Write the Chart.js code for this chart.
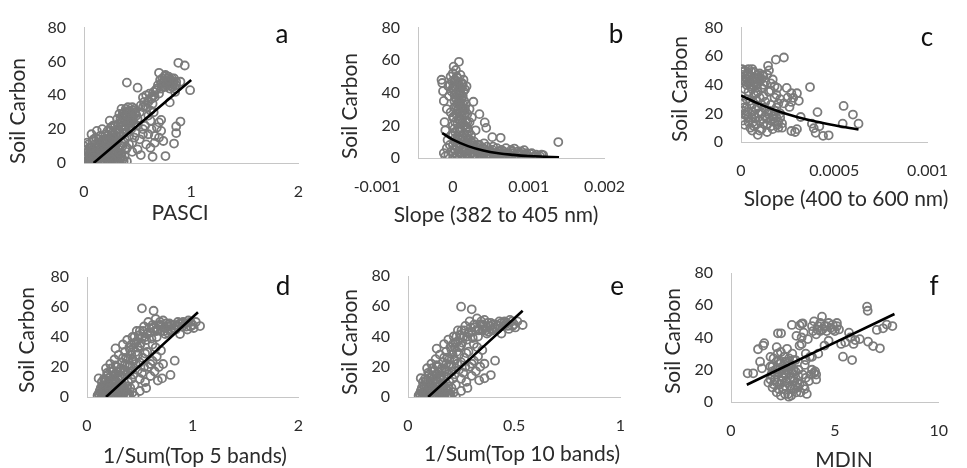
<!DOCTYPE html>
<html>
<head>
<meta charset="utf-8">
<script src="https://cdn.jsdelivr.net/npm/chart.js@4.4.0/dist/chart.umd.min.js"></script>
<style>
  html, body { margin: 0; padding: 0; background: #fff; }
  #wrap { position: relative; width: 967px; height: 468px; overflow: hidden; }
  canvas { position: absolute; }
</style>
</head>
<body>
<div id="wrap">
  <canvas id="chartA" width="322" height="234" style="left:0;top:0"></canvas>
  <canvas id="chartB" width="322" height="234" style="left:322px;top:0"></canvas>
  <canvas id="chartC" width="323" height="234" style="left:644px;top:0"></canvas>
  <canvas id="chartD" width="322" height="234" style="left:0;top:234px"></canvas>
  <canvas id="chartE" width="322" height="234" style="left:322px;top:234px"></canvas>
  <canvas id="chartF" width="323" height="234" style="left:644px;top:234px"></canvas>
</div>
<script>
// ---- datos ([x, soil carbon]) ----
var yTicks = [0, 20, 40, 60, 80];

// a: PASCI
var pasciPts = [[0.02,1],[0.03,3],[0.04,0.5],[0.05,2],[0.05,5],[0.06,1],[0.07,3],[0.08,0.5],[0.08,6],[0.09,2],[0.1,4],[0.1,1],[0.11,7],[0.12,2],[0.12,0.5],[0.13,5],[0.14,3],[0.15,1],[0.15,8],[0.16,4],
  [0.17,2],[0.18,6],[0.19,0.5],[0.2,3],[0.2,9],[0.21,5],[0.22,1],[0.23,7],[0.24,3],[0.25,0.5],[0.26,5],[0.27,2],[0.28,8],[0.3,4],[0.31,1],[0.33,3],[0.35,6],[0.36,2],[0.38,4],[0.4,1],
  [0.03,4],[0.06,6],[0.09,3],[0.11,9],[0.13,6],[0.16,5],[0.18,10],[0.21,7],[0.23,11],[0.26,9],[0.29,6],[0.32,8],[0.34,10],[0.04,7],[0.07,9],[0.1,7],[0.14,11],[0.17,13],[0.19,8],[0.22,13],
  [0.25,12],[0.28,11],[0.31,13],[0.12,3],[0.15,6],[0.2,12],[0.24,9],[0.27,15],[0.3,11],[0.33,9],[0.36,10],[0.39,8],[0.42,11],
  [0.02,4],[0.04,2],[0.06,4],[0.07,1],[0.09,5],[0.11,3],[0.13,1],[0.14,6],[0.16,1],[0.17,5],[0.19,4],[0.21,2],[0.22,5],[0.24,1],[0.25,7],[0.27,5],[0.29,3],[0.3,1],[0.32,5],[0.34,2],
  [0.35,4],[0.37,1],[0.09,8],[0.13,9],[0.19,11],[0.23,4],[0.26,2],[0.29,9],[0.33,6],[0.06,9],[0.04,11],[0.09,14],[0.14,14],[0.19,13],[0.23,14],[0.31,18],[0.35,16],[0.37,22],[0.4,18],[0.43,23],
  [0.44,29],[0.46,25],[0.36,29],[0.39,32],[0.42,31],[0.45,33],
  [0.0,10],[0.03,12],[0.05,9],[0.07,17],[0.08,13],[0.1,11],[0.11,15],[0.12,19],[0.13,12],[0.15,16],[0.16,10],[0.17,20],[0.18,14],[0.2,17],[0.21,12],[0.22,19],[0.24,15],[0.25,21],[0.26,11],[0.27,18],
  [0.28,14],[0.29,22],[0.3,16],[0.24,25],[0.22,16],[0.25,19],[0.27,22],[0.3,20],[0.32,23],[0.34,26],[0.36,24],[0.37,29],[0.39,27],[0.41,30],[0.43,28],[0.45,26],[0.47,32],[0.49,28],[0.33,18],
  [0.35,21],[0.38,20],[0.4,24],[0.42,21],[0.44,24],[0.46,28],[0.48,30],[0.3,13],[0.28,17],[0.26,15],
  [0.31,26],[0.32,20],[0.33,29],[0.34,24],[0.35,32],[0.36,27],[0.37,18],[0.38,30],[0.39,22],[0.4,28],[0.41,33],[0.42,25],[0.43,30],[0.44,20],[0.45,27],[0.46,31],[0.47,23],[0.48,29],[0.5,26],[0.52,30],
  [0.53,34],[0.55,38.7],[0.5,44.5],[0.4,47.5],[0.35,12],[0.38,14],[0.4,9],[0.42,16],[0.45,12],[0.48,18],[0.5,8],[0.52,14],[0.55,20],[0.45,6.6],[0.53,4.7],[0.57,22],[0.6,17],[0.62,25],
  [0.42,20],[0.47,15],[0.5,22],[0.55,17],[0.58,11],[0.63,20],[0.66,16],[0.7,24],[0.74,13],
  [0.56,36],[0.58,40],[0.6,37],[0.61,41],[0.63,38],[0.64,35],[0.65,42],[0.66,39],[0.68,44],[0.7,41],[0.58,33],[0.62,31],[0.6,28],[0.65,30],[0.69,46],[0.67,43],[0.65,40],[0.63,39],[0.6,36],[0.57,34],[0.55,33],
  [0.7,53.3],[0.72,47],[0.73,50],[0.74,45],[0.75,49],[0.76,52],[0.77,46],[0.78,48],[0.79,51],[0.8,44],[0.81,47],[0.82,50],[0.83,45],[0.84,48],[0.85,42],[0.86,46],[0.71,49],[0.73,46],[0.75,51],[0.77,49],
  [0.79,47],[0.81,49],[0.83,47],[0.85,44],[0.72,44],[0.74,48],[0.76,45],[0.78,50],[0.8,49],[0.82,45],[0.84,50],[0.86,48],
  [0.88,59.2],[0.94,57.6],[0.99,43],[0.9,48],[0.8,35.8],[0.72,25.5],[0.7,15],[0.76,4.1],[0.64,3.7],[0.84,11.5],[0.86,21.6],[0.86,17.7],[0.9,24.5],[0.68,21],[0.66,12],[0.72,19],[0.62,9]];
var trendA = [[0.09, 0], [1.0, 49]];
var ticksA = [0, 1, 2];

// b: Slope (382 to 405 nm)
var slope382Pts = [[-0.00015,48],[-0.00014,46],[-0.00013,41],[-0.00012,35],[-0.00011,22],[-0.0001,17],[-0.00007,11],[-0.00008,30],[-0.00006,44],[-0.00005,38],[-0.00012,3],[-0.0001,1],[-0.00008,6],
  [-0.00003,50],[0,52],[0.00002,47],[0.00004,54],[0.00006,49],[0.00008,59],[0.0001,51],[0.00012,46],[0.00014,48],[0.00016,42],[0.00018,44],[0,43],[0.00002,39],[0.00005,36],[0.00008,41],[0.0001,33],
  [0.00013,38],[0.00016,30],[0.00002,31],[0.00004,27],[0.00007,24],[0.0001,28],[0.00012,22],[0.00015,26],[0.00018,19],[0,20],[0.00003,16],[0.00006,13],[0.00009,18],[0.00012,11],[0.00015,15],
  [0.00018,9],[0,8],[0.00003,5],[0.00006,2],[0.00009,7],[0.00012,1],[0.00015,4],[0.0002,12],[0.00022,30],[0.00025,24.9],[0.00027,34.5],[0.00035,26.9],[0.00042,21.8],[0.00044,18.5],[0.00052,12.8],[0.00063,12.4],
  [-0.00004,45],[-0.00002,41],[0.00001,44],[0.00003,37],[0.00005,45],[0.00007,34],[0.00009,40],[0.00011,36],[0.00013,31],[0.00015,35],[0.00017,23],[-0.00003,28],[0.00001,25],[0.00004,32],[0.00007,30],
  [0.0001,23],[0.00013,33],[0.00016,27],[0.00019,22],[0.00021,16],[-0.00002,14],[0.00002,18],[0.00006,21],[0.00009,16],[0.00012,13],[0.00016,20],[0.00019,14],[0.00023,11],[0.00026,9],[0.00029,6],
  [0.00033,8],[0.00037,5],[0.00041,9],[0.00045,7],[0.00049,4],[0.00054,3],[0.00058,6],[0.00062,4],[0.00066,2],[0.00072,3],[0.00076,1],[0.0008,3],[0.00086,2],[0.0009,4],[0.00096,2],[0.001,1],
  [0.00104,3],[0.00108,1],[0.00112,0.5],[0.00117,2],[0.00001,56],[0.00005,50],[0.00011,43],[0.00014,41],[0.00003,12],[0.00008,9],[0.00013,6],[0.00017,12],[0.00021,4],[0.00024,8],[0.00028,2],
  [0.00032,4],[0.00036,1],[0.0004,3],[0.00045,1],[0.0005,4],[0.00055,2],[0.0006,1],[0.00065,3],[0.0007,1],[0.00075,2],[0.0008,0.5],
  [-0.00001,47],[0.00001,42],[0.00003,48],[0.00005,40],[0.00007,46],[0.00009,44],[0.00011,39],[0.00013,45],[0.00002,35],[0.00004,43],[0.00006,33],[0.00008,37],[0.00011,31],[0.00014,29],[0.00017,33],
  [0.0,25],[0.00003,22],[0.00006,29],[0.00009,26],[0.00012,27],[0.00014,20],[0.00017,17],[0.0,14],[0.00003,10],[0.00006,17],[0.00009,12],[0.00011,8],[0.00014,10],[0.00017,6],[0.0002,9],
  [0.00001,3],[0.00004,7],[0.00007,4],[0.00009,1],[0.00012,5],[0.00016,1],[0.00019,3],[0.00023,5],[0.00027,2],[0.0003,7],[0.00034,3],[0.00039,1],[0.00042,5],[0.00047,2],[0.00052,5],[0.00057,3],
  [0.00061,1],[0.00067,4],[0.00071,2],[0.00077,5],[0.00082,2],[0.00086,4],[0.00092,1],[0.00097,3],[-0.00006,2],[-0.00004,8],[-0.00002,4],[0.0002,18],[0.00022,22],[0.00019,27],
  [0.00022,7],[0.00025,3],[0.00028,10],[0.0003,5],[0.00032,1],[0.00035,8],[0.00038,3],[0.0004,6],[0.00043,1],[0.00046,4],[0.0005,2],[0.00053,7],[0.00056,0.5],[0.0006,3],[0.00064,5],[0.00068,1],
  [0.0007,6],[0.00074,2],[0.00078,4],[0.00081,5.8],[0.00084,1],[0.00088,3],[0.00094,4.8],[0.00098,1],[0.00102,2.5],[0.00106,0.5],[0.0011,2],[0.00115,1],[0.00119,1.8],[0.00139,9.8],
  [0.00003,0.5],[0.0001,3],[0.00018,2],[0.0002,0.5],[0.00024,14],[0.0003,17]];
var trendB = [[-0.00014,15.2],[0,11.3],[0.0002,7.3],[0.0004,4.6],[0.0006,2.9],[0.0008,1.9],[0.001,1.2],[0.0012,0.8],[0.0014,0.5]];
var ticksB = [-0.001, 0, 0.001, 0.002];

// c: Slope (400 to 600 nm)
var slope400Pts = [[0.000005,51],[0.00001,47],[0.00002,50],[0.00003,44],[0.00004,48],[0.00005,42],[0.00006,51],[0.00007,45],[0.00008,40],[0.00009,47],[0.0001,43],[0.00011,38],[0.00012,46],
  [0.00003,40],[0.00006,37],[0.00009,35],[0.00002,46],[0.00004,51],[0.00005,46],[0.00007,49],[0.00008,44],[0.0001,48],[0.00011,44],[0.00013,42],[0.00014,47],[0.00012,40],[0.00001,43],[0.00004,41],
  [0.00006,44],[0.00009,41],[0.00002,37],[0.00005,39],[0.00008,34],
  [0.000015,49],[0.000035,47],[0.000055,49],[0.000075,42],[0.000095,45],[0.000115,47],[0.000025,42],[0.000065,40],[0.000045,45],[0.000085,38],
  [0.000145,53.3],[0.00015,50.1],[0.00017,43.7],[0.000187,57.6],[0.00023,59.1],[0.000195,37.8],[0.000245,37.8],[0.00027,34.1],[0.0003,34.1],[0.00037,38.4],[0.00028,30.9],[0.00031,28.8],[0.00026,24.5],
  [0.00032,17.5],[0.00041,20.9],[0.00055,25.2],[0.0006,19.2],[0.00063,12.8],[0.000545,12.8],[0.00038,12.8],[0.00039,9.6],[0.0004,6.4],[0.00044,4.3],[0.00042,11],[0.00047,4.7],[0.00027,7.7],[0.0003,9],[0.00029,7],
  [0.00016,36],[0.00019,33],[0.00021,30],[0.00023,27],[0.00025,31],[0.00027,28],[0.00018,39],
  [0.000005,22],[0.00001,27],[0.00002,19],[0.00003,24],[0.00004,14],[0.00005,29],[0.00006,21],[0.00007,11],[0.00008,17],[0.00009,25],[0.0001,8],[0.00011,20],[0.00012,13],[0.00013,28],[0.00014,16],
  [0.00015,22],[0.00016,11],[0.00017,18],[0.00018,14],[0.00019,24],[0.0002,10],[0.00021,17],[0.00022,13],[0.00012,32],[0.00015,35],[0.0001,31],[0.00007,33],[0.00004,35],[0.00006,8],[0.00009,5],
  [0.00014,7],[0.00018,20],[0.0002,27],[0.00016,41],[0.00018,31],[0.00003,30],[0.00006,26],[0.00008,29],[0.00011,26],[0.00013,23],[0.00016,26],[0.00018,22],[0.00021,20],[0.00019,17],[0.00016,15],
  [0.00013,18],[0.0001,15],[0.00007,19],[0.00004,17],[0.00002,12],[0.00005,10],[0.00008,12],[0.00011,9],[0.00014,12],[0.00017,9],[0.0002,14],[0.00022,10],[0.00003,19],[0.00001,15],[0.00008,23],
  [0.000015,24],[0.000035,21],[0.000055,17],[0.000095,20],[0.000125,24],[0.000145,20],[0.000175,16],[0.000195,12],[0.000115,16],[0.000065,14]];
var trendC = [[0,32.5],[0.0001,26.5],[0.0002,21.5],[0.0003,17.5],[0.0004,14.3],[0.0005,11.7],[0.0006,9.5],[0.00063,8.8]];
var ticksC = [0, 0.0005, 0.001];

// d: 1/Sum(Top 5 bands)
var top5Pts = [[0.1,1],[0.12,4],[0.14,0.5],[0.15,7],[0.16,2],[0.18,5],[0.2,1],[0.21,9],[0.22,3],[0.24,6],[0.25,0.5],[0.26,11],[0.27,4],[0.29,2],[0.3,8],[0.32,1],[0.33,5],[0.35,3],[0.37,0.5],[0.38,7],
  [0.4,2],[0.45,0.7],[0.11,12.4],[0.18,19.1],[0.27,32.4],[0.14,10],[0.2,15],[0.22,22],[0.24,17],[0.26,25],[0.28,20],[0.3,28],[0.31,14],[0.33,23],[0.34,35],[0.35,18],[0.36,30],[0.37,26],[0.38,38],
  [0.4,33],[0.41,21],[0.42,28],[0.43,40],[0.44,24],[0.45,36],[0.46,30],[0.47,44],[0.48,18],[0.5,34],
  [0.12,1],[0.13,3],[0.15,0.5],[0.17,3],[0.18,1],[0.19,6],[0.2,4],[0.22,1],[0.24,2],[0.25,9],[0.27,7],[0.29,5],[0.31,3],[0.32,7],[0.34,1],[0.35,6],[0.37,4],[0.39,1],[0.17,11],[0.2,8],
  [0.22,13],[0.26,15],[0.29,13],[0.31,17],[0.33,14],[0.36,17],[0.38,21],[0.41,17],[0.43,25],[0.46,22],[0.42,35],[0.45,40],[0.48,33],[0.5,44],[0.55,40],[0.62,48],[0.66,44],[0.7,48],[0.74,42],
  [0.8,48],[0.84,45],[0.9,49],[0.98,47],
  [0.11,2],[0.13,6],[0.15,3],[0.17,8],[0.19,3],[0.21,6],[0.23,1],[0.23,10],[0.25,4],[0.26,7],[0.28,1],[0.28,10],[0.3,4],[0.31,11],[0.33,2],[0.34,8],[0.36,5],[0.38,2],[0.39,10],[0.41,6],[0.43,3],
  [0.16,12],[0.19,16],[0.21,13],[0.23,19],[0.25,14],[0.27,21],[0.29,17],[0.32,19],[0.34,26],[0.36,22],[0.39,25],[0.41,31],[0.44,33],[0.47,37],[0.49,41],[0.51,36],[0.53,44],[0.57,42],[0.59,46],
  [0.61,39],[0.64,44],[0.67,45],[0.69,50],[0.71,47],[0.73,44],[0.75,49],[0.77,47],[0.79,44],[0.82,46],[0.85,47],[0.88,49],[0.91,50],[0.94,47],[0.98,50],[1.01,46],[0.5,23],[0.53,26],[0.57,30],
  [0.6,22],[0.65,33],[0.67,11],[0.48,28],[0.44,15],[0.54,20],
  [0.52,59.1],[0.63,57.5],[0.52,40],[0.54,47],[0.55,29],[0.56,38],[0.58,50],[0.6,43],[0.62,35],[0.63,46],[0.65,52],[0.66,40],[0.68,48],[0.7,44],[0.72,51],[0.74,46],[0.76,43],[0.78,49],[0.8,45],
  [0.83,48],[0.86,50],[0.9,47],[0.93,49],[0.96,51],[1.0,48],[1.03,50],[1.07,47.3],[0.95,45],[0.88,42],
  [0.45,8],[0.5,12],[0.52,16],[0.55,10],[0.58,20],[0.6,14],[0.62,24],[0.64,17],[0.66,27],[0.68,20],[0.7,31],[0.72,22],[0.71,12.4],[0.79,14.7],[0.83,24.2],[0.5,4],[0.42,12],[0.38,15],[0.56,6]];
var trendD = [[0.18, 0], [1.05, 56.5]];
var ticksD = [0, 1, 2];

// e: 1/Sum(Top 10 bands)
var top10Pts = [[0.05,1],[0.06,4],[0.07,0.5],[0.075,7],[0.08,2],[0.09,5],[0.1,1],[0.105,9],[0.11,3],[0.12,6],[0.125,0.5],[0.13,11],[0.135,4],[0.145,2],[0.15,8],[0.16,1],[0.165,5],[0.175,3],
  [0.185,0.5],[0.19,7],[0.2,2],[0.225,0.2],[0.06,12.4],[0.09,19],[0.135,32],[0.07,10],[0.1,15],[0.11,22],[0.12,17],[0.13,25],[0.14,20],[0.15,28],[0.155,14],[0.165,23],[0.17,35],[0.175,18],
  [0.18,30],[0.185,26],[0.19,38],[0.2,33],[0.205,21],[0.21,28],[0.215,40],[0.22,24],[0.225,36],[0.23,30],[0.235,44],[0.24,18],[0.25,34],
  [0.06,1],[0.068,3],[0.078,0.5],[0.088,3],[0.092,1],[0.098,6],[0.102,4],[0.112,1],[0.122,2],[0.128,9],[0.138,7],[0.148,5],[0.158,3],[0.162,7],[0.172,1],[0.178,6],[0.188,4],[0.198,1],
  [0.088,11],[0.102,8],[0.112,13],[0.132,15],[0.148,13],[0.158,17],[0.168,14],[0.182,17],[0.192,21],[0.208,17],[0.218,25],[0.232,22],[0.212,35],[0.228,40],[0.242,33],[0.252,44],[0.278,40],
  [0.312,48],[0.332,44],[0.352,48],[0.372,42],[0.402,48],[0.422,45],[0.452,49],[0.492,47],
  [0.055,2],[0.065,6],[0.075,3],[0.085,8],[0.095,3],[0.105,6],[0.115,1],[0.115,10],[0.125,4],[0.13,7],[0.14,1],[0.14,10],[0.15,4],[0.155,11],[0.165,2],[0.17,8],[0.18,5],[0.19,2],[0.195,10],
  [0.205,6],[0.215,3],[0.08,12],[0.095,16],[0.105,13],[0.115,19],[0.125,14],[0.135,21],[0.145,17],[0.16,19],[0.17,26],[0.18,22],[0.195,25],[0.205,31],[0.22,33],[0.235,37],[0.245,41],[0.255,36],
  [0.265,44],[0.285,42],[0.295,46],[0.305,39],[0.32,44],[0.335,45],[0.345,50],[0.355,47],[0.365,44],[0.375,49],[0.385,47],[0.395,44],[0.41,46],[0.425,47],[0.44,49],[0.455,50],[0.47,47],[0.49,50],
  [0.505,46],[0.25,23],[0.265,26],[0.285,30],[0.3,22],[0.325,33],[0.335,11],[0.24,28],[0.22,15],[0.27,20],
  [0.25,59.7],[0.3,58],[0.26,40],[0.27,47],[0.275,29],[0.28,38],[0.29,50],[0.3,43],[0.31,35],[0.315,46],[0.325,52],[0.33,40],[0.34,48],[0.35,44],[0.36,51],[0.37,46],[0.38,43],[0.39,49],[0.4,45],
  [0.415,48],[0.43,50],[0.45,47],[0.465,49],[0.48,51],[0.5,48],[0.515,50],[0.54,47.6],[0.475,45],[0.44,42],
  [0.225,8],[0.25,12],[0.26,16],[0.275,10],[0.29,20],[0.3,14],[0.31,24],[0.32,17],[0.33,27],[0.34,20],[0.35,31],[0.36,22],[0.36,12.4],[0.39,14.5],[0.41,24],[0.25,4],[0.21,12],[0.19,15],[0.28,6]];
var trendE = [[0.095, 0], [0.54, 57]];
var ticksE = [0, 0.5, 1];

// f: MDIN
var mdinPts = [[0.8,17.8],[1.07,17.8],[1.3,32.7],[1.55,35],[1.6,36.5],[1.4,25],[1.49,20.9],[1.8,12],[1.9,22],[1.95,17],[2.0,9],[2.05,27],[2.1,14],[2.15,20],[2.2,6],[2.25,30],[2.26,42.6],
  [2.41,42.6],[2.3,18],[2.35,11],[2.4,24],[2.45,16],[2.5,8],[2.55,28],[2.6,21],[2.65,13],[2.7,25],[2.75,5],[2.78,3.3],[2.8,18],[2.85,10],[2.9,22],[2.93,47.8],[2.95,30],[3.0,15],[3.05,8],[3.1,26],
  [3.15,41],[3.2,12],[3.25,20],[3.3,35],[3.35,6],[3.4,48.5],[3.45,48.8],[3.5,10],[3.55,23],[3.6,30],[3.65,5],[3.7,39],[3.75,13],[3.8,28],[3.85,17],[3.9,47],[3.95,44],[4.0,50],[4.05,19],[4.1,17],[4.1,14],
  [4.15,45],[4.2,47],[4.3,49],[4.38,52.9],[4.4,45],[4.5,47],[4.6,44],[4.7,49],[4.8,46],[4.9,48],[5.0,44],[5.1,47],[5.2,45],[5.39,28.1],[5.5,37],[5.68,43],[5.75,40],[5.83,26],[5.98,38.4],[5.9,36],
  [6.2,39],[6.55,59.1],[6.58,56.6],[6.6,37.4],[6.84,34.7],[7.02,44.7],[7.17,33.3],[7.32,45.7],[7.5,48],[7.77,47.1],
  [4.5,35],[4.2,30],[3.9,28],[3.6,26],[2.0,19],[2.2,25],[2.5,15],[2.8,27],[3.0,20],[3.2,9],[2.4,4],[2.6,10],[1.9,14],[2.7,33],[3.4,36],[4.7,38],[5.3,36],
  [2.0,22],[2.1,18],[2.2,12],[2.3,26],[2.35,20],[2.45,13],[2.5,22],[2.55,18],[2.6,25],[2.65,17],[2.7,12],[2.75,20],[2.8,23],[2.85,15],[2.9,8],[2.95,18],[3.0,26],[3.05,13],[3.1,19],[3.15,6],
  [3.25,16],[3.3,11],[3.45,17],[3.55,8],[3.6,15],[2.3,8],[2.6,5],[2.9,4],[3.1,10],[2.05,11],[3.5,43],[3.4,40],[3.9,20],[4.0,18],[2.4,31],[2.2,34],[1.9,28],[4.3,44],[4.6,47],[4.9,45],[5.1,49],[4.1,42],[3.3,47.5]];
var trendF = [[0.76, 10.7], [7.87, 54.6]];
var ticksF = [0, 5, 10];

// ---- graficos ----
var FONT = "Lato, 'Open Sans', sans-serif";

function toPoints(pairs) {
    return pairs.map(function (p) { return { x: p[0], y: p[1] }; });
}

// titulos de ejes y letra del panel
var panelText = {
    id: 'panelText',
    afterDraw: function (chart, args, o) {
        var ctx = chart.ctx;
        ctx.save();
        ctx.fillStyle = '#2b2b2b';
        ctx.textAlign = 'center';
        ctx.textBaseline = 'middle';
        ctx.font = '21px ' + FONT;
        ctx.fillText(o.xTitle, o.xTitlePos[0], o.xTitlePos[1]);
        ctx.save();
        ctx.translate(o.yTitlePos[0], o.yTitlePos[1]);
        ctx.rotate(-Math.PI / 2);
        ctx.fillText(o.yTitle, 0, 0);
        ctx.restore();
        ctx.fillStyle = '#111';
        ctx.font = '26px ' + FONT;
        ctx.fillText(o.letter, o.letterPos[0], o.letterPos[1]);
        ctx.restore();
    }
};

function makePanel(id, p) {
    var ctx = document.getElementById(id).getContext('2d');
    return new Chart(ctx, {
        type: 'scatter',
        data: {
            datasets: [{
                data: toPoints(p.pts),
                pointRadius: 4,
                pointHoverRadius: 4,
                borderWidth: 1.8,
                borderColor: '#7b7b7b',
                backgroundColor: 'rgba(0,0,0,0)',
                order: 2
            }, {
                type: 'line',
                data: toPoints(p.trend),
                borderColor: '#000',
                borderWidth: 2.6,
                pointRadius: 0,
                tension: 0.4,
                fill: false,
                order: 1
            }]
        },
        options: {
            responsive: false,
            animation: false,
            layout: { padding: { top: p.box.top, right: p.box.right, left: 0, bottom: 0 } },
            plugins: {
                legend: { display: false },
                tooltip: { enabled: false },
                panelText: {
                    xTitle: p.xTitle, yTitle: 'Soil Carbon', letter: p.letter,
                    xTitlePos: p.box.xTitle, yTitlePos: p.box.yTitle, letterPos: p.box.letter
                }
            },
            scales: {
                x: {
                    type: 'linear',
                    min: p.xMin, max: p.xMax,
                    grid: { display: false, drawTicks: false },
                    border: { display: true, color: '#c6c6c6', width: 1 },
                    afterBuildTicks: function (s) { s.ticks = p.xTicks.map(function (v) { return { value: v }; }); },
                    afterFit: function (s) { s.height = p.box.xH; },
                    ticks: {
                        padding: 19, color: '#2b2b2b', maxRotation: 0, autoSkip: false,
                        font: { family: FONT, size: 16 },
                        callback: function (v) { return String(v); }
                    }
                },
                y: {
                    min: 0, max: 80,
                    grid: { display: false, drawTicks: false },
                    border: { display: true, color: '#c6c6c6', width: 1 },
                    afterBuildTicks: function (s) { s.ticks = yTicks.map(function (v) { return { value: v }; }); },
                    afterFit: function (s) { s.width = p.box.yW; },
                    ticks: { padding: 18, color: '#2b2b2b', font: { family: FONT, size: 16 } }
                }
            }
        },
        plugins: [panelText]
    });
}

makePanel('chartA', { pts: pasciPts, trend: trendA, xMin: 0, xMax: 2, xTicks: ticksA, xTitle: 'PASCI', letter: 'a',
    box: { yW: 84, xH: 71, top: 26, right: 22, xTitle: [180, 213], yTitle: [18, 111], letter: [282, 35] } });
makePanel('chartB', { pts: slope382Pts, trend: trendB, xMin: -0.00046, xMax: 0.002, xTicks: ticksB, xTitle: 'Slope (382 to 405 nm)', letter: 'b',
    box: { yW: 96, xH: 76, top: 25, right: 29, xTitle: [174, 215], yTitle: [28, 106], letter: [294, 35] } });
makePanel('chartC', { pts: slope400Pts, trend: trendC, xMin: 0, xMax: 0.001, xTicks: ticksC, xTitle: 'Slope (400 to 600 nm)', letter: 'c',
    box: { yW: 97, xH: 92, top: 17, right: 23, xTitle: [202, 199], yTitle: [36, 89], letter: [283, 38] } });
makePanel('chartD', { pts: top5Pts, trend: trendD, xMin: 0, xMax: 2, xTicks: ticksD, xTitle: '1/Sum(Top 5 bands)', letter: 'd',
    box: { yW: 87, xH: 71, top: 43, right: 20, xTitle: [195, 222], yTitle: [27, 106], letter: [283, 53] } });
makePanel('chartE', { pts: top10Pts, trend: trendE, xMin: 0, xMax: 1, xTicks: ticksE, xTitle: '1/Sum(Top 10 bands)', letter: 'e',
    box: { yW: 86, xH: 71, top: 42, right: 12, xTitle: [200, 220], yTitle: [28, 108], letter: [295, 53] } });
makePanel('chartF', { pts: mdinPts, trend: trendF, xMin: 0, xMax: 10, xTicks: ticksF, xTitle: 'MDIN', letter: 'f',
    box: { yW: 87, xH: 66, top: 39, right: 11, xTitle: [200, 226], yTitle: [29, 107], letter: [290, 53] } });
</script>
</body>
</html>
